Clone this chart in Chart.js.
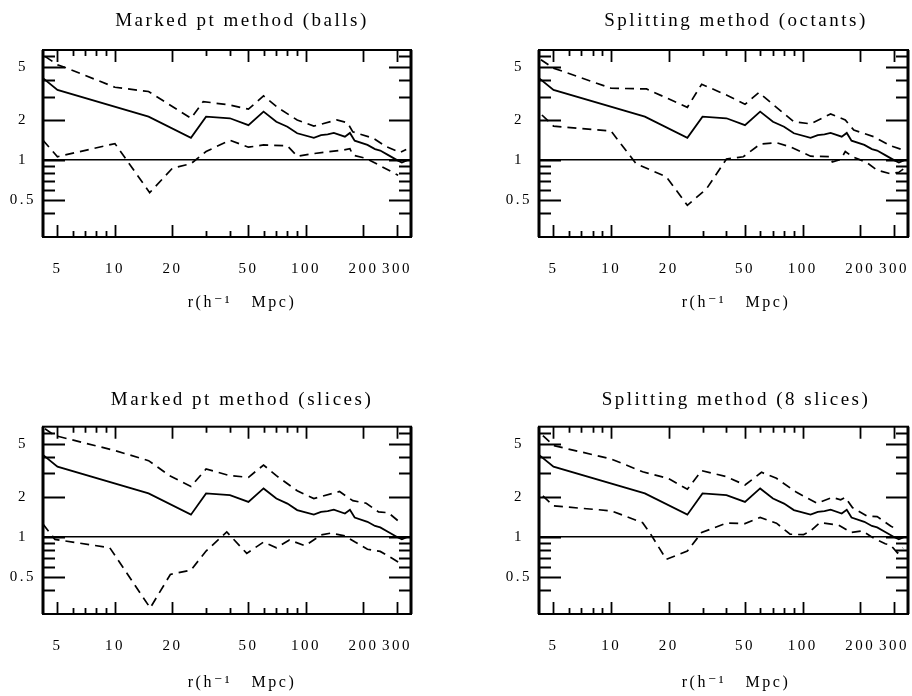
<!DOCTYPE html>
<html><head><meta charset="utf-8">
<script src="https://cdn.jsdelivr.net/npm/chart.js@4/dist/chart.umd.min.js"></script>
<style>
html,body{margin:0;padding:0;background:#fff;overflow:hidden;width:912px;height:696px;position:relative;}
canvas{position:absolute;}
</style></head><body>
<canvas id="c1" width="484" height="320" style="left:0px;top:0px"></canvas>
<canvas id="c2" width="480" height="320" style="left:496px;top:0px"></canvas>
<canvas id="c3" width="484" height="316" style="left:0px;top:380px"></canvas>
<canvas id="c4" width="480" height="316" style="left:496px;top:380px"></canvas>
<script>
// ---- data ----
const TITLES = ['Marked pt method (balls)', 'Splitting method (octants)', 'Marked pt method (slices)', 'Splitting method (8 slices)'];
const X_TITLE = 'r(h\u207B\u00B9   Mpc)';

const X_TICKS  = [5, 6, 7, 8, 9, 10, 20, 30, 40, 50, 60, 70, 80, 90, 100, 200, 300];
const X_LABELS = ['5', '', '', '', '', '10', '20', '', '', '50', '', '', '', '', '100', '200', '300'];
const Y_TICKS  = [0.4, 0.5, 0.6, 0.7, 0.8, 0.9, 1, 2, 3, 4, 5, 6];
const Y_LABELS = ['', '0.5', '', '', '', '', '1', '2', '', '', '5', ''];

// central estimate (same in all panels)
const R_MID = [4.2, 5, 15, 25, 30, 40, 50, 60, 70, 80, 90, 110, 120, 130, 140, 160, 170, 180, 210, 230, 245, 270, 300, 318, 340];
const MID   = [4.12, 3.36, 2.12, 1.47, 2.12, 2.06, 1.83, 2.31, 1.94, 1.78, 1.59, 1.47, 1.54, 1.56, 1.60, 1.50, 1.60, 1.40, 1.30, 1.21, 1.18, 1.09, 1.00, 0.96, 1.00];

// Marked pt method (balls)
const R_BALLS_HI = [4.3, 5, 5.4, 10, 15, 25, 29, 40, 50, 60, 72, 90, 110, 145, 165, 176, 225, 264, 311, 335];
const BALLS_HI   = [6.0, 5.19, 5.0, 3.52, 3.27, 2.06, 2.75, 2.59, 2.41, 3.03, 2.45, 2.0, 1.8, 2.0, 1.91, 1.63, 1.46, 1.26, 1.14, 1.2];
const R_BALLS_LO = [4.2, 5, 10, 15.2, 20, 25, 30, 40, 50, 60, 80, 90, 110, 157, 170, 176, 207, 304];
const BALLS_LO   = [1.41, 1.06, 1.33, 0.57, 0.87, 0.94, 1.16, 1.41, 1.25, 1.30, 1.28, 1.07, 1.12, 1.19, 1.22, 1.09, 1.03, 0.77];

// Splitting method (octants)
const R_OCT_HI = [4.3, 5, 10, 15.3, 25, 29.7, 40, 50, 59, 73, 90, 110, 140, 167, 185, 235, 288, 325];
const OCT_HI   = [5.66, 4.9, 3.46, 3.42, 2.49, 3.71, 3.08, 2.62, 3.21, 2.49, 1.94, 1.87, 2.22, 2.0, 1.68, 1.5, 1.28, 1.21];
const R_OCT_LO = [4.35, 5, 10, 13.5, 19.4, 25, 31.5, 40, 49, 60, 73, 86, 110, 140, 143, 158, 167, 182, 216, 245, 288, 318, 340];
const OCT_LO   = [2.18, 1.8, 1.65, 0.94, 0.75, 0.458, 0.61, 1.02, 1.06, 1.32, 1.35, 1.26, 1.07, 1.06, 0.97, 1.01, 1.16, 1.06, 0.96, 0.84, 0.79, 0.81, 0.87];

// Marked pt method (slices)
const R_SL_HI = [4.3, 4.85, 10, 15, 19.3, 25, 30, 40, 50, 60, 70, 90, 110, 150, 176, 207, 240, 270, 304];
const SL_HI   = [6.46, 5.75, 4.44, 3.73, 2.88, 2.39, 3.23, 2.88, 2.8, 3.46, 2.88, 2.22, 1.94, 2.19, 1.87, 1.79, 1.54, 1.52, 1.32];
const R_SL_LO = [4.2, 4.85, 9.4, 15.3, 19.5, 25, 30, 38.5, 49, 60, 70, 82, 99, 120, 135, 160, 180, 210, 245, 284, 304, 320];
const SL_LO   = [1.25, 0.96, 0.83, 0.294, 0.524, 0.565, 0.785, 1.09, 0.754, 0.917, 0.83, 0.95, 0.86, 1.035, 1.07, 1.02, 0.92, 0.81, 0.78, 0.69, 0.65, 0.61];

// Splitting method (8 slices)
const R_S8_HI = [4.4, 5, 10, 14.6, 19.8, 25, 29.7, 40, 50, 61, 73, 93, 119, 143, 158, 167, 182, 216, 245, 288, 313];
const S8_HI   = [5.75, 4.84, 3.84, 3.08, 2.75, 2.28, 3.14, 2.83, 2.45, 3.05, 2.75, 2.16, 1.79, 1.98, 1.9, 1.98, 1.66, 1.44, 1.42, 1.21, 1.13];
const R_S8_LO = [4.4, 5, 10, 14.6, 15.9, 19.4, 25, 29.7, 40, 50, 60, 73, 86, 101, 110, 123, 154, 179, 205, 235, 270, 288, 313, 334];
const S8_LO   = [2.03, 1.71, 1.57, 1.28, 1.08, 0.68, 0.785, 1.08, 1.27, 1.26, 1.4, 1.27, 1.05, 1.04, 1.11, 1.28, 1.23, 1.08, 1.11, 0.98, 0.89, 0.87, 0.76, 0.83];

const X_MIN = 4.2, X_MAX = 355, Y_MIN = 0.265, Y_MAX = 6.7;

// ---- styling ----
const FONT = "'Liberation Serif', 'DejaVu Serif', serif";
const LS = '2.5px';

const framePlugin = {
  id: 'frame',
  beforeLayout(chart) { chart.ctx.letterSpacing = LS; },
  beforeDraw(chart) { chart.ctx.letterSpacing = LS; },
  afterDraw(chart) {
    const {ctx, chartArea: a, scales: {x, y}} = chart;
    ctx.save();
    ctx.strokeStyle = '#000';
    ctx.lineWidth = 1.8;
    ctx.beginPath();
    x.ticks.forEach((t, i) => {
      const px = Math.round(x.getPixelForValue(t.value)) + 0.5;
      const len = X_LABELS[i] ? 12 : 6;
      ctx.moveTo(px, a.bottom); ctx.lineTo(px, a.bottom - len);
      ctx.moveTo(px, a.top); ctx.lineTo(px, a.top + len);
    });
    y.ticks.forEach((t, i) => {
      const py = Math.round(y.getPixelForValue(t.value)) + 0.5;
      const len = Y_LABELS[i] ? 22 : 12;
      ctx.moveTo(a.left, py); ctx.lineTo(a.left + len, py);
      ctx.moveTo(a.right, py); ctx.lineTo(a.right - len, py);
    });
    ctx.stroke();
    ctx.lineWidth = 2;
    ctx.strokeRect(a.left, a.top, a.width, a.height);
    ctx.lineWidth = 3;
    ctx.beginPath();
    ctx.moveTo(a.left, a.top); ctx.lineTo(a.left, a.bottom);
    ctx.moveTo(a.right, a.top); ctx.lineTo(a.right, a.bottom);
    ctx.stroke();
    ctx.restore();
  }
};

const pts = (r, v) => r.map((xv, i) => ({x: xv, y: v[i]}));

function makeChart(id, title, hiR, hi, loR, lo, L) {
  const base = {borderColor: '#000', pointRadius: 0, tension: 0, fill: false};
  new Chart(document.getElementById(id), {
    type: 'line',
    data: {datasets: [
      Object.assign({data: pts(R_MID, MID), borderWidth: 1.8}, base),
      Object.assign({data: pts(hiR, hi), borderWidth: 1.7, borderDash: [9, 6]}, base),
      Object.assign({data: pts(loR, lo), borderWidth: 1.7, borderDash: [9, 6]}, base)
    ]},
    options: {
      responsive: false, animation: false, devicePixelRatio: 1,
      layout: {autoPadding: false, padding: 0},
      plugins: {
        legend: {display: false}, tooltip: {enabled: false},
        title: {display: true, text: title, color: '#000',
                font: {family: FONT, size: 19, weight: 'normal'},
                padding: {top: L.tt, bottom: L.tb}},
        subtitle: {display: true, position: 'bottom', text: X_TITLE, color: '#000',
                font: {family: FONT, size: 16, weight: 'normal'},
                padding: {top: L.st, bottom: L.sb}}
      },
      scales: {
        x: {
          type: 'logarithmic', position: 'bottom', min: X_MIN, max: X_MAX,
          afterBuildTicks: s => { s.ticks = X_TICKS.map(v => ({value: v})); },
          afterFit: s => { s.height = 45; },
          ticks: {autoSkip: false, maxRotation: 0, minRotation: 0, padding: 23, color: '#000',
                  font: {family: FONT, size: 15}, callback: (v, i) => X_LABELS[i]},
          grid: {drawOnChartArea: false, drawTicks: false},
          border: {display: false}
        },
        y: {
          type: 'logarithmic', position: 'left', min: Y_MIN, max: Y_MAX,
          afterBuildTicks: s => { s.ticks = Y_TICKS.map(v => ({value: v})); },
          afterFit: s => { s.width = 43; },
          ticks: {autoSkip: false, crossAlign: 'center', padding: 7, color: '#000',
                  font: {family: FONT, size: 15}, callback: (v, i) => Y_LABELS[i]},
          grid: {drawTicks: false, lineWidth: 1.6,
                 color: c => (c.tick && c.tick.value === 1) ? '#000' : 'rgba(0,0,0,0)'},
          border: {display: false}
        },
        // empty spacer axis on the right so the centred titles sit where the reference has them
        spacer: {
          type: 'linear', position: 'right', min: 0, max: 1,
          afterFit: s => { s.width = L.padR; },
          ticks: {display: false}, grid: {display: false}, border: {display: false}
        }
      }
    },
    plugins: [framePlugin]
  });
}

const TOP = {tt: 9.6, tb: 17.6, st: 11.5, sb: 7.3};
const BOT = {tt: 8.6, tb: 15.3, st: 14, sb: 3.8};
makeChart('c1', TITLES[0], R_BALLS_HI, BALLS_HI, R_BALLS_LO, BALLS_LO, Object.assign({padR: 73}, TOP));
makeChart('c2', TITLES[1], R_OCT_HI, OCT_HI, R_OCT_LO, OCT_LO, Object.assign({padR: 68}, TOP));
makeChart('c3', TITLES[2], R_SL_HI, SL_HI, R_SL_LO, SL_LO, Object.assign({padR: 73}, BOT));
makeChart('c4', TITLES[3], R_S8_HI, S8_HI, R_S8_LO, S8_LO, Object.assign({padR: 68}, BOT));
</script>
</body></html>
